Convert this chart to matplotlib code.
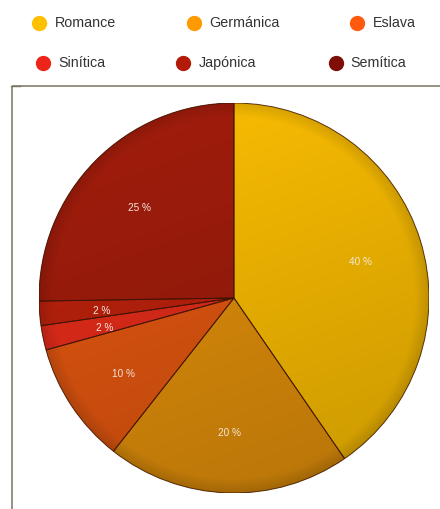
import numpy as np
import matplotlib
matplotlib.use("Agg")
import matplotlib.pyplot as plt
from matplotlib.colors import to_rgb
from matplotlib.patches import PathPatch

# Language families and their share (%)
families = ["Romance", "Germánica", "Eslava", "Sinítica", "Japónica", "Semítica"]
shares = [40, 20, 10, 2, 2, 25]

legend_colors = ["#FFC000", "#FF9A00", "#FF5A0E", "#EE2418", "#B41A08", "#7E0E06"]
slice_colors = ["#EDB302", "#D6880A", "#D6520F", "#D82A19", "#B2200C", "#981B0B"]

W, H = 440, 509
fig = plt.figure(figsize=(W / 100, H / 100), dpi=100)
fig.patch.set_facecolor("white")

# Overlay in pixel coordinates for the legend and the frame
ov = fig.add_axes([0, 0, 1, 1])
ov.set_xlim(0, W)
ov.set_ylim(H, 0)
ov.axis("off")

# Frame around the plotting area
ov.plot([11.5, W], [86, 86], color="#8f897c", lw=1.3, solid_capstyle="butt")
ov.plot([11.5, 11.5], [86, H], color="#8f897c", lw=1.3, solid_capstyle="butt")
ov.plot([10.5, 20], [85.5, 85.5], color="#7a7468", lw=1.0)

# Legend (two rows of three)
marker_x = [39, 194, 357, 43, 183, 336]
text_x = [55, 209, 373, 58, 199, 350]
row_y = [23, 23, 23, 63, 63, 63]
for name, c, mx, tx, ry in zip(families, legend_colors, marker_x, text_x, row_y):
    ov.plot(mx, ry, "o", ms=10, color=c, mec=c)
    ov.text(tx, ry, name, fontsize=10.3, color="#333333", va="center", ha="left",
            family=["Liberation Sans", "DejaVu Sans"])

# Pie chart
cx, cy, r = 234, 298, 195
ax = fig.add_axes([(cx - r) / W, 1 - (cy + r) / H, 2 * r / W, 2 * r / H])
wedges, _ = ax.pie(shares, colors=slice_colors, startangle=90, counterclock=False,
                   wedgeprops=dict(linewidth=0))
ax.set_xlim(-1, 1)
ax.set_ylim(-1, 1)
ax.set_aspect("equal")
ax.axis("off")

# Shaded fill for each slice: lighter at the top-left, darker towards bottom-right and rim
n = 300
xs = np.linspace(-1, 1, n)
X, Y = np.meshgrid(xs, xs[::-1])
R = np.hypot(X, Y)
shade = 1.07 - 0.16 * (1 - Y) / 2 - 0.06 * (X + 1) / 2
shade = shade - 0.12 * np.clip((R - 0.93) / 0.07, 0, 1)
for w, c in zip(wedges, slice_colors):
    rgb = np.array(to_rgb(c))
    img = np.clip(shade[..., None] * rgb[None, None, :], 0, 1)
    im = ax.imshow(img, extent=(-1, 1, -1, 1), origin="upper", zorder=2,
                   interpolation="bilinear")
    im.set_clip_path(w)

# Slice outlines on top of the shading
for w in wedges:
    ax.add_patch(PathPatch(w.get_path(), fill=False, edgecolor="#3a1200", lw=0.7,
                           alpha=0.8, zorder=5, transform=w.get_transform()))

# Percentage labels
for w, v in zip(wedges, shares):
    mid = np.deg2rad((w.theta1 + w.theta2) / 2)
    ax.text(0.68 * np.cos(mid), 0.68 * np.sin(mid) - 0.015, f"{v} %", ha="center",
            va="center", fontsize=7.2, color="#F4E6DA", zorder=6,
            family=["Liberation Sans", "DejaVu Sans"])

fig.savefig("out.png", dpi=100, facecolor="white")
